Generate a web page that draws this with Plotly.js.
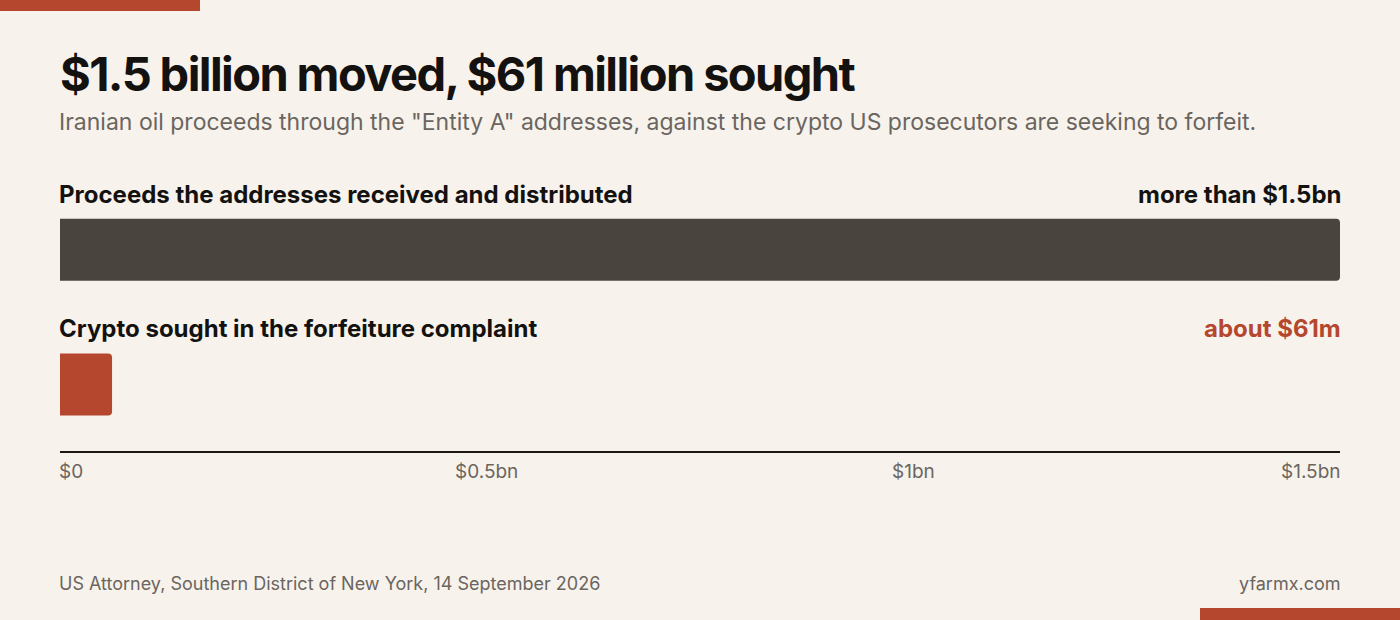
<!DOCTYPE html>
<html>
<head>
<meta charset="utf-8">
<script src="https://cdn.plot.ly/plotly-3.0.1.min.js"></script>
<style>
  html, body { margin: 0; padding: 0; background: #f7f3ec; }
  #chart { width: 1400px; height: 620px; }
  .gtitle { letter-spacing: -1.6px; }
</style>
</head>
<body>
<div id="chart"></div>
<script>
// ---- data ----
const rowLabels = ["Proceeds the addresses received and distributed", "Crypto sought in the forfeiture complaint"];
const rowValues = [1500, 61];            // $ millions
const valueLabels = ["more than $1.5bn", "about $61m"];
const tickValues = [0, 500, 1000, 1500];
const tickLabels = ["$0", "$0.5bn", "$1bn", "$1.5bn"];
const titleText = "$1.5 billion moved, $61 million sought";
const subtitleText = 'Iranian oil proceeds through the "Entity A" addresses, against the crypto US prosecutors are seeking to forfeit.';
const sourceText = "US Attorney, Southern District of New York, 14 September 2026";
const siteText = "yfarmx.com";

// ---- style ----
const W = 1400, H = 620;
const M = { l: 60, r: 60, t: 169, b: 169 };
const plotW = W - M.l - M.r, plotH = H - M.t - M.b;
const BG = "#f7f3ec", INK = "#141210", GREY = "#6b655f", DARK = "#4a443f", RED = "#b5472f";
const FONT = "Inter, 'Noto Sans', sans-serif";
const barColors = [DARK, RED];
const valueColors = [INK, RED];

const px = x => (x - M.l) / plotW;
const py = y => (H - M.b - y) / plotH;

const rows = rowLabels.map((_, i) => i);

const trace = {
  type: "bar",
  orientation: "h",
  y: rows,
  x: rowValues,
  width: 0.46,
  marker: { color: barColors, cornerradius: 4 },
  hoverinfo: "skip"
};

const base = { showarrow: false, borderpad: 0, borderwidth: 0 };
const annotations = [];
rows.forEach(i => {
  annotations.push(Object.assign({}, base, {
    xref: "paper", yref: "y", x: 0, y: i, yshift: 55.5, xshift: -1,
    xanchor: "left", yanchor: "middle",
    text: "<b>" + rowLabels[i] + "</b>",
    font: { family: FONT, size: 24, color: INK, weight: 700 }
  }));
  annotations.push(Object.assign({}, base, {
    xref: "paper", yref: "y", x: 1, y: i, yshift: 55.5, xshift: 1,
    xanchor: "right", yanchor: "middle",
    text: "<b>" + valueLabels[i] + "</b>",
    font: { family: FONT, size: 24, color: valueColors[i], weight: 700 }
  }));
});
tickValues.forEach((v, i) => {
  const first = i === 0, last = i === tickValues.length - 1;
  annotations.push(Object.assign({}, base, {
    xref: "x", yref: "paper", x: v, y: 0, yshift: -20.5,
    xshift: first ? -1 : (last ? 1 : 0),
    xanchor: first ? "left" : (last ? "right" : "center"),
    yanchor: "middle",
    text: tickLabels[i],
    font: { family: FONT, size: 19, color: GREY }
  }));
});
annotations.push(Object.assign({}, base, {
  xref: "paper", yref: "paper", x: 0, y: py(122), xshift: -1,
  xanchor: "left", yanchor: "middle",
  text: subtitleText, font: { family: FONT, size: 23, color: GREY }
}));
annotations.push(Object.assign({}, base, {
  xref: "paper", yref: "paper", x: 0, y: py(583), xshift: -1,
  xanchor: "left", yanchor: "middle",
  text: sourceText, font: { family: FONT, size: 18, color: GREY }
}));
annotations.push(Object.assign({}, base, {
  xref: "paper", yref: "paper", x: 1, y: py(583), xshift: 1,
  xanchor: "right", yanchor: "middle",
  text: siteText, font: { family: FONT, size: 18, color: GREY }
}));

const shapes = [
  { type: "rect", xref: "paper", yref: "paper", x0: px(0), x1: px(200), y0: py(0), y1: py(11),
    fillcolor: RED, line: { width: 0 }, layer: "above" },
  { type: "rect", xref: "paper", yref: "paper", x0: px(1200), x1: px(1400), y0: py(608), y1: py(620),
    fillcolor: RED, line: { width: 0 }, layer: "above" }
];

const layout = {
  width: W, height: H,
  paper_bgcolor: BG, plot_bgcolor: BG,
  margin: { l: M.l, r: M.r, t: M.t, b: M.b, pad: 0 },
  showlegend: false,
  title: {
    text: "<b>" + titleText + "</b>",
    xref: "container", yref: "container",
    x: M.l / W, xanchor: "left",
    y: 1 - 75 / H, yanchor: "middle",
    font: { family: FONT, size: 47, color: INK, weight: 800 }
  },
  xaxis: {
    range: [0, 1500], fixedrange: true,
    showgrid: false, zeroline: false, showticklabels: false, ticks: "",
    showline: true, linecolor: "#1a1714", linewidth: 2
  },
  yaxis: {
    range: [1.4944, -0.6], fixedrange: true,
    showgrid: false, zeroline: false, showticklabels: false, ticks: "", showline: false
  },
  annotations: annotations,
  shapes: shapes
};

Plotly.newPlot("chart", [trace], layout, { displayModeBar: false, staticPlot: true });
</script>
</body>
</html>
